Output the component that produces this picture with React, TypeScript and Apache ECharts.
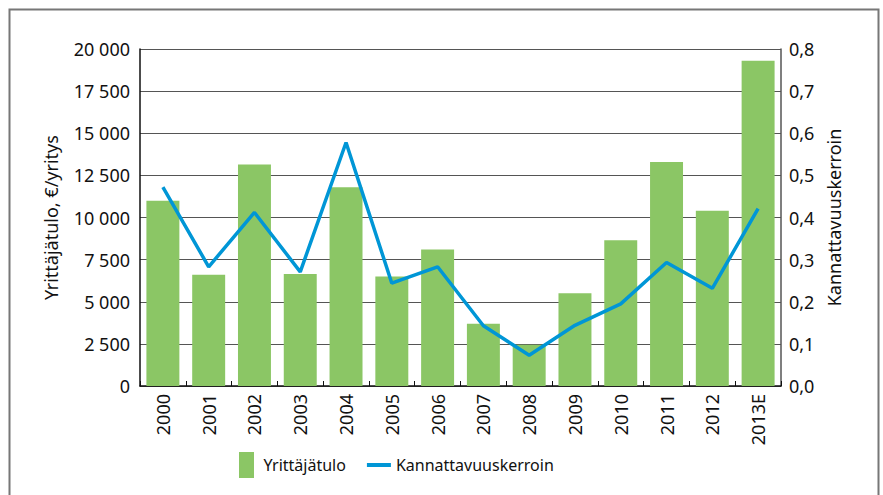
import React, { useEffect, useRef } from "react";
import * as echarts from "echarts";

const categories = ["2000", "2001", "2002", "2003", "2004", "2005", "2006", "2007", "2008", "2009", "2010", "2011", "2012", "2013E"];
const yrittajatulo = [11000, 6600, 13150, 6650, 11800, 6500, 8100, 3700, 2450, 5500, 8650, 13300, 10400, 19300];
const kannattavuus = [0.472, 0.283, 0.412, 0.271, 0.578, 0.244, 0.283, 0.143, 0.073, 0.144, 0.195, 0.293, 0.232, 0.421];

const FONT = "Noto Sans";
const GREEN = "#8bc665";
const BLUE = "#0096d6";

export default function App() {
  const ref = useRef<HTMLDivElement>(null);
  useEffect(() => {
    document.body.style.margin = "0";
    const chart = echarts.init(ref.current!, null, { renderer: "svg" });
    chart.setOption({
      animation: false,
      textStyle: { fontFamily: FONT, color: "#111" },
      grid: { left: 140, right: 102, top: 49, bottom: 109, containLabel: false },
      legend: {
        left: 234,
        top: 447,
        itemWidth: 24,
        itemHeight: 26,
        itemGap: 21,
        textStyle: { fontFamily: FONT, fontSize: 16, color: "#111" },
        data: [
          { name: "Yrittäjätulo", icon: "path://M0,0h15v26h-15z" },
          { name: "Kannattavuuskerroin", icon: "path://M0,0h24v4h-24z" },
        ],
      },
      xAxis: {
        type: "category",
        data: categories,
        axisLine: { lineStyle: { color: "#111", width: 1.5 } },
        axisTick: { show: true, inside: true, length: 5, lineStyle: { color: "#111" } },
        axisLabel: { rotate: 90, fontSize: 18, color: "#111", fontFamily: FONT, margin: 8 },
      },
      yAxis: [
        {
          type: "value",
          min: 0,
          max: 20000,
          interval: 2500,
          name: "Yrittäjätulo, €/yritys",
          nameLocation: "middle",
          nameGap: 80,
          nameTextStyle: { fontSize: 18, color: "#111", fontFamily: FONT },
          axisLine: { show: true, lineStyle: { color: "#111", width: 1.5 } },
          axisTick: { show: false },
          splitLine: { show: true, lineStyle: { color: "#555", width: 1 } },
          axisLabel: {
            fontSize: 18,
            color: "#111",
            fontFamily: FONT,
            margin: 10,
            formatter: (v: number) => String(v).replace(/\B(?=(\d{3})+(?!\d))/g, " "),
          },
        },
        {
          type: "value",
          min: 0,
          max: 0.8,
          interval: 0.1,
          name: "Kannattavuuskerroin",
          nameLocation: "middle",
          nameGap: 43,
          nameTextStyle: { fontSize: 18, color: "#111", fontFamily: FONT },
          axisLine: { show: true, lineStyle: { color: "#555", width: 1.5 } },
          axisTick: { show: false },
          splitLine: { show: false },
          axisLabel: {
            fontSize: 18,
            color: "#111",
            fontFamily: FONT,
            margin: 8,
            formatter: (v: number) => v.toFixed(1).replace(".", ","),
          },
        },
      ],
      series: [
        {
          name: "Yrittäjätulo",
          type: "bar",
          data: yrittajatulo,
          barCategoryGap: "28%",
          itemStyle: { color: GREEN },
        },
        {
          name: "Kannattavuuskerroin",
          type: "line",
          yAxisIndex: 1,
          data: kannattavuus,
          showSymbol: false,
          symbol: "none",
          lineStyle: { color: BLUE, width: 3.5 },
          itemStyle: { color: BLUE },
        },
      ],
      graphic: [
        {
          type: "rect",
          shape: { x: 9.5, y: 9.5, width: 869, height: 520 },
          style: { fill: "none", stroke: "#777", lineWidth: 2 },
          silent: true,
        },
      ],
    });
    return () => chart.dispose();
  }, []);
  return <div ref={ref} style={{ width: 883, height: 495 }} />;
}
